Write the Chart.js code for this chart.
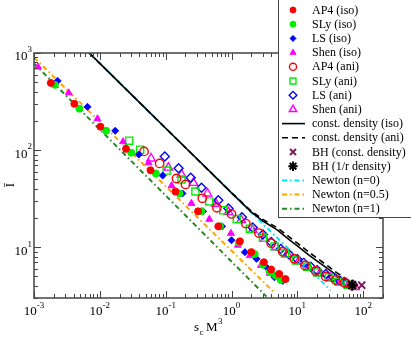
<!DOCTYPE html>
<html>
<head>
<meta charset="utf-8">
<script src="https://cdn.jsdelivr.net/npm/chart.js@4.4.1/dist/chart.umd.min.js"></script>
<style>
html, body { margin: 0; padding: 0; background: #fff; }
canvas { display: block; }
</style>
</head>
<body>
<canvas id="chart" width="411" height="338"></canvas>
<script>

/* DATA (s_c M^3 , I-bar) */

const ap4IsoS = [0.0018, 0.0041, 0.0102, 0.025, 0.059, 0.141, 0.31, 0.63, 1.34, 2.0, 3.1, 4.0, 5.3, 6.6];
const ap4IsoI = [492, 300, 174, 103, 62, 37.5, 23.4, 16.4, 11.5, 8.9, 7.0, 5.9, 5.3, 4.7];

const slyIsoS = [0.00207, 0.0049, 0.0125, 0.030, 0.071, 0.163, 0.35, 0.67, 1.3, 2.25, 3.0, 3.8, 4.7, 5.6];
const slyIsoI = [470, 267, 158, 94, 57.4, 35.8, 23.4, 16.4, 11.2, 8.5, 6.6, 5.6, 5.1, 4.6];

const lsIsoS = [0.00229, 0.0065, 0.0171, 0.039, 0.09, 0.18, 0.37, 0.72, 1.0, 1.6, 2.4, 3.5, 4.5, 6.0];
const lsIsoI = [516, 279, 158, 90, 54.7, 35.8, 23.4, 16.4, 11.8, 8.9, 7.6, 6.1, 4.9, 4.5];

const shenIsoS = [0.00115, 0.00336, 0.0092, 0.0225, 0.055, 0.123, 0.246, 0.46, 0.98, 1.25, 1.9, 2.8, 3.8];
const shenIsoI = [718, 389, 210, 122, 74, 43, 28.3, 19.4, 13.9, 10.5, 8.2, 6.5, 5.4];

const ap4AniS = [0.047, 0.081, 0.146, 0.2, 0.36, 0.6, 1.0, 1.65, 2.6, 4.0, 6.0, 9.0, 13, 19, 27, 38, 52, 68];
const ap4AniI = [97, 73, 51, 44.3, 31.9, 25.5, 22, 17.5, 14, 11, 9, 7.6, 6.5, 5.7, 5.0, 4.6, 4.3, 4.05];

const slyAniS = [0.028, 0.041, 0.1035, 0.174, 0.283, 0.459, 0.75, 1.2, 1.9, 3.0, 4.5, 6.5, 9.5, 14, 20, 30, 42, 58];
const slyAniI = [125, 101, 61.6, 49.8, 37.5, 29.6, 24, 19.5, 15.5, 12.5, 10.2, 8.6, 7.3, 6.3, 5.5, 4.9, 4.4, 4.1];

const lsAniS = [0.097, 0.157, 0.24, 0.35, 0.63, 0.9, 1.44, 2.1, 3.0, 4.0, 5.6, 7.5, 10, 12.5, 16, 20, 27, 35, 45, 55, 70];
const lsAniI = [86, 65, 52, 41, 30.4, 25, 20.3, 16, 13.5, 11.3, 9.6, 8.4, 7.5, 6.9, 6.3, 5.8, 5.3, 4.9, 4.5, 4.3, 4.1];

const shenAniS = [0.06, 0.11, 0.174, 0.264, 0.43, 0.58, 0.9, 1.4, 2.1, 3.2, 4.8, 7, 10.5, 15, 22, 32, 45, 60, 75];
const shenAniI = [82, 66, 56, 46, 35.8, 28, 23, 19, 15, 12.2, 10, 8.5, 7.2, 6.2, 5.4, 4.8, 4.4, 4.1, 3.9];

const constIsoS = [0.0069, 0.01, 0.03, 0.1, 0.3, 1, 2, 3, 5, 7.5, 10, 15, 20, 30, 40, 55, 67];
const constIsoI = [1000, 781, 375, 168, 81, 36.3, 23, 18.6, 15.0, 12.0, 10.3, 8.3, 7.2, 5.9, 5.1, 4.45, 4.07];

const constAniS = [0.0069, 0.01, 0.03, 0.1, 0.3, 1, 2, 3, 5, 7.5, 10, 15, 20, 30, 40, 55, 67, 75];
const constAniI = [1000, 781, 375, 168, 81, 36.5, 23.5, 19.3, 15.8, 12.8, 11.0, 8.9, 7.7, 6.3, 5.45, 4.7, 4.3, 4.1];

const bhConstS = [95];
const bhConstI = [4.07];

const bhRS = [68];
const bhRI = [4.07];

const newton0S = [0.0069, 32];
const newton0I = [1000, 3.6];

const newton05S = [0.001, 4.6];
const newton05I = [900, 3.35];

const newton1S = [0.001, 3.4];
const newton1I = [780, 3.1];

const xTickExps = [-3, -2, -1, 0, 1, 2];
const yTickExps = [1, 2, 3];

const X_MIN = 0.001, X_MAX = 200, Y_MIN = 3, Y_MAX = 1000;

function pts(xs, ys) {
return xs.map((x, i) => ({ x: x, y: ys[i] }));
}

function markers(label, xs, ys, style, color, filled, radius) {
return {
label: label,
data: pts(xs, ys),
showLine: false,
pointStyle: style,
pointRadius: radius,
pointHoverRadius: radius,
pointBackgroundColor: filled ? color : "rgba(0,0,0,0)",
pointBorderColor: color,
pointBorderWidth: filled ? 1 : 1.4,
order: 1
};
}

function curve(label, xs, ys, color, width, dash) {
return {
label: label,
data: pts(xs, ys),
showLine: true,
pointRadius: 0,
borderColor: color,
borderWidth: width,
borderDash: dash,
fill: false,
tension: 0,
order: 5
};
}

const dashDot = [5, 3, 1.5, 3];

const datasets = [
markers("AP4 (iso)", ap4IsoS, ap4IsoI, "circle", "#ff0000", true, 3.5),
markers("SLy (iso)", slyIsoS, slyIsoI, "circle", "#00ee00", true, 3.5),
markers("LS (iso)", lsIsoS, lsIsoI, "rectRot", "#0000ff", true, 3.5),
markers("Shen (iso)", shenIsoS, shenIsoI, "triangle", "#ff00ff", true, 4),
markers("AP4 (ani)", ap4AniS, ap4AniI, "circle", "#ff0000", false, 4.2),
markers("SLy (ani)", slyAniS, slyAniI, "rect", "#00ee00", false, 5),
markers("LS (ani)", lsAniS, lsAniI, "rectRot", "#0000ff", false, 4.5),
markers("Shen (ani)", shenAniS, shenAniI, "triangle", "#ff00ff", false, 5),
curve("const. density (iso)", constIsoS, constIsoI, "#000000", 1.6, []),
curve("const. density (ani)", constAniS, constAniI, "#000000", 1.6, [6, 4]),
markers("BH (const. density)", bhConstS, bhConstI, "crossRot", "#7b1a5a", true, 5),
markers("BH (1/r density)", bhRS, bhRI, "star", "#000000", true, 5.5),
curve("Newton (n=0)", newton0S, newton0I, "#00e5ff", 2, dashDot),
curve("Newton (n=0.5)", newton05S, newton05I, "#ffa500", 2, dashDot),
curve("Newton (n=1)", newton1S, newton1I, "#228b22", 2, dashDot)
];

datasets[10].pointBorderWidth = 2;
datasets[11].pointBorderWidth = 2;
datasets[10].order = 0;
datasets[11].order = 0;
datasets[8].order = 3;
datasets[9].order = 3;

/* FRAME, TICKS, LABELS */

const frame = {
id: "frame",
afterDatasetsDraw(chart) {

const ctx = chart.ctx;
const a = chart.chartArea;
const xs = chart.scales.x;
const ys = chart.scales.y;

ctx.save();
ctx.strokeStyle = "#444";
ctx.lineWidth = 1;

function seg(x1, y1, x2, y2) {
ctx.beginPath();
ctx.moveTo(x1, y1);
ctx.lineTo(x2, y2);
ctx.stroke();
}

for (let d = -3; d <= 2; d++) {
for (let m = 1; m <= 9; m++) {
const v = m * Math.pow(10, d);
if (v < X_MIN || v > X_MAX) continue;
const px = Math.round(xs.getPixelForValue(v)) + 0.5;
const len = m === 1 ? 7 : 4;
seg(px, a.bottom, px, a.bottom - len);
seg(px, a.top, px, a.top + len);
}
}

for (let d = 0; d <= 3; d++) {
for (let m = 1; m <= 9; m++) {
const v = m * Math.pow(10, d);
if (v < Y_MIN || v > Y_MAX) continue;
const py = Math.round(ys.getPixelForValue(v)) + 0.5;
const len = m === 1 ? 7 : 4;
seg(a.left, py, a.left + len, py);
seg(a.right, py, a.right - len, py);
}
}

ctx.lineWidth = 1.5;
ctx.strokeRect(a.left, a.top, a.right - a.left, a.bottom - a.top);

ctx.fillStyle = "#000";
ctx.textBaseline = "middle";

xTickExps.forEach(e => {
const px = xs.getPixelForValue(Math.pow(10, e));
ctx.font = '13px "Liberation Serif"';
const w1 = ctx.measureText("10").width;
ctx.font = '9px "Liberation Serif"';
const w2 = ctx.measureText(String(e)).width;
const x0 = px - (w1 + w2) / 2;
ctx.font = '13px "Liberation Serif"';
ctx.textAlign = "left";
ctx.fillText("10", x0, a.bottom + 14);
ctx.font = '9px "Liberation Serif"';
ctx.fillText(String(e), x0 + w1, a.bottom + 8);
});

yTickExps.forEach(e => {
const py = ys.getPixelForValue(Math.pow(10, e));
ctx.font = '9px "Liberation Serif"';
const w2 = ctx.measureText(String(e)).width;
ctx.textAlign = "right";
ctx.fillText(String(e), a.left - 2, py - 3);
ctx.font = '13px "Liberation Serif"';
ctx.fillText("10", a.left - 2 - w2, py + 4);
});

// axis titles
ctx.textAlign = "left";
ctx.textBaseline = "alphabetic";
ctx.font = '13px "Liberation Serif"';
ctx.fillText("s", 194, 331);
ctx.font = '9px "Liberation Serif"';
ctx.fillText("c", 199.5, 335);
ctx.font = '13px "Liberation Serif"';
ctx.fillText("M", 206, 331);
ctx.font = '9px "Liberation Serif"';
ctx.fillText("3", 218, 324);

ctx.save();
ctx.translate(11, 185);
ctx.rotate(-Math.PI / 2);
ctx.textAlign = "center";
ctx.textBaseline = "middle";
ctx.font = '13px "Liberation Serif"';
ctx.fillText("\u012A", 0, 0);
ctx.restore();

ctx.restore();
}
};

/* LEGEND BOX */

const legendBox = {
id: "legendBox",
afterDraw(chart) {

const ctx = chart.ctx;
ctx.save();
ctx.fillStyle = "#fff";
ctx.fillRect(278.5, -1, 140, 218.5);
ctx.strokeStyle = "#444";
ctx.lineWidth = 1;
ctx.strokeRect(278.5, -1, 140, 218.5);

chart.data.datasets.forEach((ds, i) => {
const y = 10 + i * 14.2;
if (ds.showLine) {
ctx.strokeStyle = ds.borderColor;
ctx.lineWidth = ds.borderWidth;
ctx.setLineDash(ds.borderDash || []);
ctx.beginPath();
ctx.moveTo(282, y);
ctx.lineTo(305, y);
ctx.stroke();
ctx.setLineDash([]);
} else {
ctx.fillStyle = ds.pointBackgroundColor;
ctx.strokeStyle = ds.pointBorderColor;
ctx.lineWidth = ds.pointBorderWidth;
Chart.helpers.drawPoint(ctx, {
pointStyle: ds.pointStyle,
radius: ds.pointRadius * 0.85,
borderWidth: ds.pointBorderWidth,
rotation: 0
}, 293, y);
}
ctx.fillStyle = "#000";
ctx.font = '12px "Liberation Serif"';
ctx.textAlign = "left";
ctx.textBaseline = "middle";
ctx.fillText(ds.label, 312, y + 0.5);
});

ctx.restore();
}
};

/* CHART */

new Chart(document.getElementById("chart"), {

type: "scatter",

data: { datasets: datasets },

options: {
responsive: false,
animation: false,
devicePixelRatio: 1,
layout: {
padding: { left: 34, top: 53, right: 28, bottom: 40 }
},
plugins: {
legend: { display: false },
tooltip: { enabled: false }
},
scales: {
x: { type: "logarithmic", min: X_MIN, max: X_MAX, display: false },
y: { type: "logarithmic", min: Y_MIN, max: Y_MAX, display: false }
}
},

plugins: [frame, legendBox]

});

</script>
</body>
</html>
